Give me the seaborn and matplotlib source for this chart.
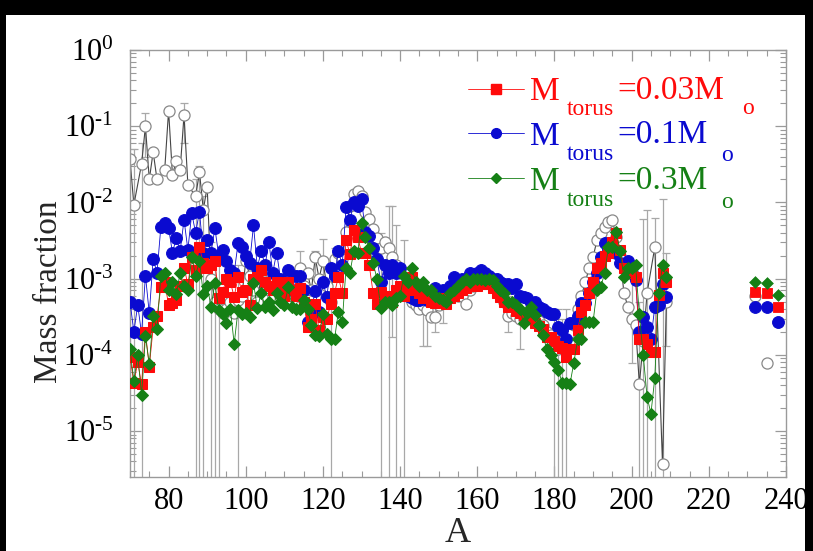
import numpy as np
import pandas as pd
import seaborn as sns
import matplotlib.pyplot as plt
from matplotlib.lines import Line2D
from matplotlib.patches import Rectangle
from matplotlib.ticker import MultipleLocator, LogLocator, FuncFormatter, NullFormatter

nan = np.nan

# mass numbers of the model curves
mass_A = list(range(70, 210))

# M_torus = 0.03 M_sun (red squares)
torus_003 = [9.5e-5, 4.3e-5, 8e-5, 4.1e-5, 2e-4, 7e-5, 2.3e-4, 3.2e-4, 7.7e-4, 9e-4,
             4.5e-4, 4.8e-4, 5.3e-4, 8e-4, 1.4e-3, 8.4e-4, 1.9e-3, 1.3e-3, 2.6e-3, 1.6e-3,
             1.4e-3, 1.5e-3, 1.7e-3, 5.6e-4, 6.7e-4, 1e-3, 9e-4, 5.8e-4, 1.05e-3, 6.7e-4,
             7e-4, 4.5e-4, 1e-3, 1.05e-3, 1.3e-3, 9e-4, 8e-4, 7e-4, 9e-4, 7e-4,
             6e-4, 9e-4, 7e-4, 6e-4, 7.5e-4, 5e-4, 2.3e-4, 3e-4, 4.6e-4, 2.1e-4,
             3.1e-4, 3e-4, 4.6e-4, 6.5e-4, 1.05e-3, 6.5e-4, 3.2e-3, 2.1e-3, 4.3e-3, 3.5e-3,
             2.2e-3, 2.2e-3, 1.5e-3, 6.5e-4, 4.6e-4, 6.7e-4, 5.5e-4, 6e-4, 5e-4, 7e-4,
             8e-4, 6e-4, 7e-4, 1.05e-3, 7e-4, 6.5e-4, 5.5e-4, 5.5e-4, 5e-4, 4.8e-4,
             5.5e-4, 5e-4, 4.6e-4, 5.5e-4, 6e-4, 6.5e-4, 7e-4, 7.5e-4, 8e-4, 8.4e-4,
             8e-4, 8.5e-4, 8.4e-4, 8.4e-4, 7.5e-4, 6.5e-4, 5.8e-4, 5e-4, 4.3e-4, 4.5e-4,
             3.8e-4, 3.5e-4, 3.3e-4, 3.1e-4, 3e-4, 2.6e-4, 2.4e-4, 2.2e-4, 1.7e-4, 1.7e-4,
             1.5e-4, 1.3e-4, 1.25e-4, 9.5e-5, 1.2e-4, 1.2e-4, 2.1e-4, 3.7e-4, 4.5e-4, 6.5e-4,
             9e-4, 1.4e-3, 1.6e-3, 2e-3, 2.2e-3, 3e-3, 4e-3, 2.4e-3, 1.4e-3, 1.3e-3,
             1.2e-3, 1.05e-3, 1.6e-4, 1.6e-4, 1.4e-4, 1.1e-4, 1.1e-4, 6.1e-4, 1.2e-3, 9e-4]

# M_torus = 0.1 M_sun (blue circles)
torus_01 = [5e-4, 2e-4, 4.5e-4, 1.9e-4, 1.1e-3, 3.5e-4, 1.8e-3, 1.2e-3, 4.8e-3, 5.3e-3,
            4.6e-3, 2.2e-3, 3.4e-3, 2.3e-3, 5.9e-3, 2.4e-3, 7.2e-3, 4e-3, 7.5e-3, 2.2e-3,
            3.2e-3, 2.2e-3, 4.6e-3, 2e-3, 2.4e-3, 1.7e-3, 1.3e-3, 1.2e-3, 2.9e-3, 2.6e-3,
            2e-3, 1.6e-3, 5e-3, 1.4e-3, 2.3e-3, 1.5e-3, 3e-3, 1.2e-3, 2.2e-3, 1e-3,
            9e-4, 1.3e-3, 7e-4, 1.1e-3, 1.1e-3, 7e-4, 2.7e-4, 4e-4, 6.8e-4, 3.6e-4,
            9e-4, 5.8e-4, 1.4e-3, 1.1e-3, 2.3e-3, 1.5e-3, 8.8e-3, 5.9e-3, 1e-2, 9e-3,
            1.1e-2, 4.1e-3, 3.6e-3, 2.5e-3, 1.8e-3, 9e-4, 1.5e-3, 1.2e-3, 1.5e-3, 1.2e-3,
            1.4e-3, 6.3e-4, 6e-4, 5.6e-4, 5.3e-4, 5.3e-4, 5.5e-4, 5.3e-4, 6e-4, 7.5e-4,
            6.5e-4, 7e-4, 6e-4, 8e-4, 1.05e-3, 9e-4, 1e-3, 9e-4, 1.2e-3, 1.1e-3,
            1.2e-3, 1.3e-3, 1.2e-3, 1.1e-3, 1e-3, 1e-3, 9e-4, 8.5e-4, 8.5e-4, 7.5e-4,
            8.5e-4, 6e-4, 5.8e-4, 5.5e-4, 4.8e-4, 5e-4, 4.2e-4, 4e-4, 3.7e-4, 3.4e-4,
            3.4e-4, 2.3e-4, 2.1e-4, 1.6e-4, 2.6e-4, 2.6e-4, 3.2e-4, 4.8e-4, 4.8e-4, 6.5e-4,
            9e-4, 1.2e-3, 1.9e-3, 2.9e-3, 2.5e-3, 2.4e-3, 2.2e-3, 1.6e-3, 1.5e-3, 1.7e-3,
            1.2e-3, 9.7e-4, 2e-4, 3.1e-4, 2.3e-4, 1.6e-4, 4.3e-4, 4.5e-4, 8.4e-4, 5.8e-4]

# M_torus = 0.3 M_sun (green diamonds)
torus_03 = [1.2e-4, 4.5e-5, 1e-4, 3e-5, 1.75e-4, 7.5e-5, 3.2e-4, 2.2e-4, 1.1e-3, 1.2e-3,
            7e-4, 9e-4, 6.2e-4, 1.2e-3, 8e-4, 7e-4, 1.9e-3, 1.1e-3, 1.7e-3, 6.2e-4,
            8e-4, 4.3e-4, 8.8e-4, 3.9e-4, 3.4e-4, 2.6e-4, 4e-4, 1.4e-4, 3.9e-4, 3.4e-4,
            3.5e-4, 3.1e-4, 8.8e-4, 4.1e-4, 6.5e-4, 4.3e-4, 5e-4, 3.9e-4, 6.5e-4, 5e-4,
            4.5e-4, 7.7e-4, 4.3e-4, 4e-4, 4e-4, 5.3e-4, 4e-4, 2.5e-4, 1.8e-4, 1.75e-4,
            3.4e-4, 1.9e-4, 1.6e-4, 1.6e-4, 3.7e-4, 2.7e-4, 1.4e-3, 1.2e-3, 2.3e-3, 2.2e-3,
            5.4e-3, 3.5e-3, 2.5e-3, 1.6e-3, 1e-3, 4.1e-4, 5e-4, 5e-4, 4.5e-4, 5.5e-4,
            6e-4, 1.1e-3, 9e-4, 1.4e-3, 9e-4, 8e-4, 9e-4, 7e-4, 7e-4, 6e-4,
            5.5e-4, 5.3e-4, 5e-4, 6.5e-4, 7e-4, 8e-4, 9e-4, 1e-3, 9e-4, 1e-3,
            1e-3, 1e-3, 9.5e-4, 1e-3, 9.5e-4, 8e-4, 7e-4, 6.5e-4, 5e-4, 5e-4,
            4.5e-4, 4e-4, 2.6e-4, 3.5e-4, 4.3e-4, 3.3e-4, 2.5e-4, 1.8e-4, 1.2e-4, 1e-4,
            8e-5, 6.3e-5, 4.3e-5, 4.3e-5, 4.1e-5, 7.8e-5, 1.6e-4, 1.6e-4, 2.7e-4, 2.7e-4,
            2.7e-4, 7e-4, 7.7e-4, 1.2e-3, 2.6e-3, 2.6e-3, 4.1e-3, 2.3e-3, 1.05e-3, 1.4e-3,
            1.4e-3, 1.5e-3, 3.4e-4, 1e-4, 2.8e-5, 1.7e-5, 5e-5, 6.5e-4, 1.5e-3, 1.05e-3]

# solar r-process abundances (open circles)
solar_r = [3.7e-2, 9.3e-3, nan, 3.2e-2, 1e-1, 2e-2, 4.6e-2, 2e-2, nan, 2.7e-2,
           1.6e-1, 2.3e-2, 3.5e-2, 2.7e-2, 1.4e-1, 1.7e-2, nan, 1.2e-2, 2.5e-2, 8e-3,
           1.6e-2, 1e-3, 5e-4, 4e-4, 3.5e-4, 4e-4, 5e-4, 3.5e-4, 5.3e-4, 6e-4,
           1.7e-3, 1.1e-3, 7e-4, 5e-4, 1.1e-3, 9e-4, 7e-4, 6e-4, 7e-4, 6e-4,
           1e-3, 8e-4, 6e-4, 7e-4, 1.4e-3, 8e-4, 1.2e-3, 7e-4, 1.9e-3, 1e-3,
           1.7e-3, 8e-4, 5e-4, 1.8e-3, 2.2e-3, 1.8e-3, 4.1e-3, 9e-3, 1.3e-2, 1.4e-2,
           1.2e-2, 7.5e-3, 6e-3, 4.5e-3, 3.4e-3, 2.5e-3, 3e-3, 2.5e-3, 1.9e-3, 1.5e-3,
           1.2e-3, 8e-4, 6e-4, 5e-4, 4.5e-4, 4e-4, 4.5e-4, 3.9e-4, 3.1e-4, 3.1e-4,
           4.5e-4, 5e-4, 6e-4, 7e-4, 7e-4, 6e-4, 6e-4, 4.6e-4, 7e-4, 8e-4,
           9e-4, 1e-3, 1e-3, 9e-4, 8e-4, 7e-4, 6e-4, 5e-4, 3.2e-4, 3.5e-4,
           3.2e-4, 3e-4, 3e-4, 3.5e-4, 3e-4, 3e-4, 2.8e-4, 2.5e-4, 2e-4, 1.8e-4,
           1.5e-4, 1.2e-4, 1.5e-4, 1.6e-4, 2e-4, 2.5e-4, 4e-4, 6e-4, 9e-4, 1.4e-3,
           1.9e-3, 3.2e-3, 4e-3, 4.8e-3, 5.5e-3, 5.9e-3, 3.5e-3, 2e-3, 6.5e-4, 4.3e-4,
           3e-4, 2.5e-4, 4.1e-5, 1.5e-4, 6.5e-4, nan, 2.6e-3, nan, 3.7e-6, 5e-4]

# error bars on the solar values (lower / upper bound, 0 = runs off the axis)
err_A = [71, 73, 74, 84, 87, 88, 89, 91, 92, 93, 98, 114, 118, 120, 122, 123,
         135, 137, 138, 139, 141, 146, 147, 149, 151, 168, 171,
         180, 181, 182, 183, 200, 202, 203, 204, 206, 208, 209]
err_lo = [0, 0, 4e-2, 6e-2, 0, 0, 0, 0, 0, 0, 0, 5e-4, 1e-3, 9e-4, 0, 1e-3,
          0, 0, 1.7e-4, 0, 0, 1.3e-4, 1.3e-4, 2e-4, 2.6e-4, 2e-4, 1.2e-4,
          0, 0, 0, 0, 7.8e-5, 0, 0, 0, 0, 0, 1.3e-4]
err_hi = [5e-2, 6e-2, 1.5e-1, 2e-1, 2e-2, 3e-2, 1.2e-2, 3e-3, 2e-3, 1.5e-3, 1.5e-3, 2.3e-3, 2.3e-3, 3.3e-3, 1.5e-3, 2.5e-3,
          4e-3, 9e-3, 9e-3, 5e-3, 3.2e-3, 9e-4, 8e-4, 6e-4, 8e-4, 6e-4, 5e-4,
          4e-4, 4e-4, 3e-4, 4e-4, 1e-3, 5e-4, 6e-3, 8e-3, 6.3e-3, 1.1e-2, 2.2e-3]

# actinides (not connected)
act_A = [232, 235, 238]
act_003 = [6.7e-4, 6.5e-4, 4.3e-4]
act_01 = [4.3e-4, 4.3e-4, 2.7e-4]
act_03 = [9e-4, 8.8e-4, 6.1e-4]
act_solar = [6e-4, 7.8e-5, 2.7e-4]

# legend pieces: subscripts of the original labels are shifted one row down
mass_txt = ['=0.03M', '=0.1M', '=0.3M']

RED, BLUE, GREEN = '#ff0a0a', '#0a0ad0', '#158015'

sns.set_style('ticks')
plt.rcParams['font.family'] = ['Liberation Serif', 'DejaVu Serif']
plt.rcParams['mathtext.fontset'] = 'custom'
plt.rcParams['mathtext.rm'] = 'Liberation Serif'

W, H = 813, 551
fig = plt.figure(figsize=(W / 100, H / 100), dpi=100, facecolor='black')
bg = Rectangle((6 / W, 0), (805 - 6) / W, 1 - 15 / H, transform=fig.transFigure,
               facecolor='white', edgecolor='none', zorder=-1)
fig.add_artist(bg)
ax = fig.add_axes([130 / W, 1 - 477 / H, (786 - 130) / W, (477 - 50) / H])

df = pd.DataFrame({'A': mass_A, 'r003': torus_003, 'r01': torus_01,
                   'r03': torus_03, 'solar': solar_r})
sol = df.dropna(subset=['solar'])

# error bars first, underneath everything
eb = pd.DataFrame({'A': err_A, 'lo': err_lo, 'hi': err_hi}).merge(sol[['A', 'solar']], on='A')
ax.errorbar(eb['A'], eb['solar'], yerr=[eb['solar'] - eb['lo'], eb['hi'] - eb['solar']],
            fmt='none', ecolor='#a8a8a8', elinewidth=0.9, capsize=3, capthick=0.9, zorder=1)

sns.lineplot(data=sol, x='A', y='solar', ax=ax, color='#454545', lw=0.8, marker='o',
             markersize=8, markerfacecolor='white', markeredgecolor='#888888',
             markeredgewidth=0.9, zorder=2)
sns.lineplot(data=df, x='A', y='r01', ax=ax, color=BLUE, lw=0.6, marker='o',
             markersize=8.5, markerfacecolor=BLUE, markeredgecolor=BLUE, zorder=3)
sns.lineplot(data=df, x='A', y='r003', ax=ax, color=RED, lw=0.6, marker='s',
             markersize=7.5, markerfacecolor=RED, markeredgecolor=RED, zorder=4)
sns.lineplot(data=df, x='A', y='r03', ax=ax, color=GREEN, lw=0.6, marker='D',
             markersize=6, markerfacecolor=GREEN, markeredgecolor=GREEN, zorder=5)

act = pd.DataFrame({'A': act_A, 'r003': act_003, 'r01': act_01, 'r03': act_03, 's': act_solar})
sns.scatterplot(data=act, x='A', y='s', ax=ax, marker='o', s=64, facecolor='white',
                edgecolor='#888888', linewidth=0.9, zorder=2)
sns.scatterplot(data=act, x='A', y='r01', ax=ax, marker='o', s=72, color=BLUE,
                edgecolor=BLUE, zorder=3)
sns.scatterplot(data=act, x='A', y='r003', ax=ax, marker='s', s=56, color=RED,
                edgecolor=RED, zorder=4)
sns.scatterplot(data=act, x='A', y='r03', ax=ax, marker='D', s=36, color=GREEN,
                edgecolor=GREEN, zorder=5)

ax.set_yscale('log')
ax.set_xlim(70, 240)
ax.set_ylim(2.5e-6, 1)
ax.xaxis.set_major_locator(MultipleLocator(20))
ax.xaxis.set_minor_locator(MultipleLocator(5))
ax.yaxis.set_major_locator(LogLocator(base=10, numticks=12))
ax.yaxis.set_minor_locator(LogLocator(base=10, subs=np.arange(2, 10), numticks=12))


def decade_label(v, pos):
    e = int(round(np.log10(v)))
    exp = str(e) if e >= 0 else r'\text{-}%d' % (-e)
    return r'$\mathregular{10^{%s}}$' % exp


ax.yaxis.set_major_formatter(FuncFormatter(decade_label))
ax.yaxis.set_minor_formatter(NullFormatter())
ax.tick_params(which='both', direction='in', top=True, right=True, colors='#9a9a9a',
               labelcolor='black', labelsize=22)
ax.tick_params(which='major', length=8, width=0.9)
ax.tick_params(which='minor', length=4, width=0.8)
ax.tick_params(axis='x', pad=7)
ax.tick_params(axis='y', pad=12)
for sp in ax.spines.values():
    sp.set_color('#9a9a9a')
    sp.set_linewidth(1.0)

ax.set_xlabel('A', fontsize=26, labelpad=1)
ax.set_ylabel('Mass fraction', fontsize=24)
ax.yaxis.set_label_coords(-0.100, 0.433)

# legend: handle + "M", the rest of each label is placed as separate text
handles = [Line2D([], [], color=RED, lw=0.6, marker='s', markersize=7),
           Line2D([], [], color=BLUE, lw=0.6, marker='o', markersize=7),
           Line2D([], [], color=GREEN, lw=0.6, marker='D', markersize=5)]
ax.legend(handles, ['M', 'M', 'M'], loc='upper left', bbox_to_anchor=(468 / W, 1 - 77 / H),
          bbox_transform=fig.transFigure, frameon=False, fontsize=24, handlelength=1.67,
          handletextpad=0.2, labelspacing=0.42, borderpad=0, borderaxespad=0,
          labelcolor=[RED, BLUE, GREEN])

colors = [RED, BLUE, GREEN]
row_base = [99, 143, 189]
for t, c, yb in zip(mass_txt, colors, row_base):
    fig.text(617 / W, 1 - yb / H, t, color=c, fontsize=24, ha='left', va='baseline')

sub_txt = [('torus', 590, 110, RED), ('o', 748, 109, RED),
           ('torus', 590, 155, BLUE), ('o', 727, 156, BLUE),
           ('torus', 590, 201, GREEN), ('o', 727, 203, GREEN)]
for t, x, y, c in sub_txt:
    fig.text(x / W, 1 - y / H, t, color=c, fontsize=17, ha='center', va='center')

fig.savefig('out.png', dpi=100, facecolor=fig.get_facecolor())
